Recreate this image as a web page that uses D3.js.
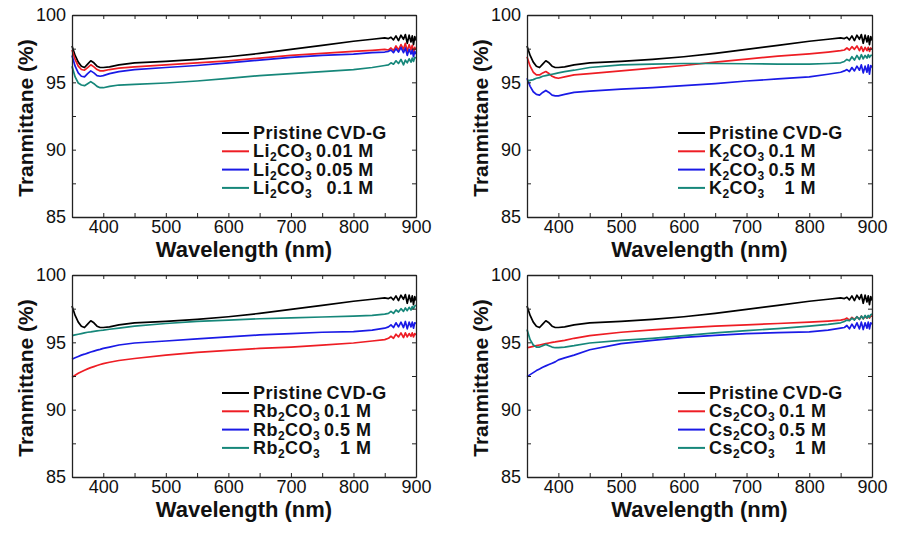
<!DOCTYPE html>
<html>
<head>
<meta charset="utf-8">
<script src="https://cdn.jsdelivr.net/npm/d3@7/dist/d3.min.js"></script>
<style>
  html, body { margin: 0; padding: 0; background: #fff; }
  svg { display: block; font-family: Arial, "Liberation Sans", Helvetica, sans-serif; }
</style>
</head>
<body>
<svg id="chart" width="903" height="533"></svg>
<script>
// ---------------- DATA ----------------
const wavelength = [350,355,360,365,370,375,380,385,390,395,400,410,425,450,500,550,600,650,700,750,800,830,850,856,860,864,868,872,876,880,883,886,889,892,894,896,898,900];

const pristine = [97.7,97.0,96.5,96.2,96.1,96.35,96.6,96.45,96.2,96.1,96.1,96.15,96.3,96.45,96.55,96.7,96.9,97.15,97.45,97.75,98.05,98.2,98.3,98.25,98.35,98.15,98.45,98.1,98.5,98.2,98.55,97.9,98.5,98.0,98.45,97.8,98.4,98.1];

const li001 = [97.4,96.7,96.2,95.95,95.9,96.1,96.3,96.15,95.95,95.85,95.85,95.95,96.05,96.15,96.3,96.45,96.6,96.8,97.0,97.15,97.3,97.38,97.45,97.4,97.55,97.35,97.7,97.4,97.8,97.45,97.9,97.3,97.8,97.4,97.75,97.2,97.6,97.4];
const li005 = [97.0,96.2,95.7,95.45,95.4,95.65,95.85,95.7,95.5,95.45,95.5,95.65,95.8,95.95,96.1,96.25,96.45,96.65,96.85,97.0,97.1,97.2,97.25,97.3,97.4,97.2,97.5,97.25,97.6,97.2,97.55,97.0,97.45,97.1,97.4,96.9,97.3,97.1];
const li01 = [96.2,95.4,94.95,94.8,94.75,94.9,95.05,94.9,94.7,94.6,94.6,94.7,94.8,94.85,94.95,95.1,95.3,95.5,95.65,95.8,95.95,96.1,96.25,96.3,96.45,96.35,96.6,96.4,96.7,96.3,96.65,96.45,96.75,96.5,96.8,96.55,96.85,96.8];

const k01 = [96.9,96.2,95.75,95.55,95.55,95.7,95.8,95.65,95.45,95.35,95.3,95.4,95.55,95.65,95.85,96.05,96.25,96.5,96.73,96.95,97.12,97.25,97.35,97.4,97.55,97.4,97.65,97.45,97.7,97.35,97.65,97.3,97.6,97.35,97.6,97.3,97.55,97.45];
const k05 = [95.3,94.7,94.3,94.1,94.05,94.25,94.4,94.25,94.05,94.0,94.0,94.1,94.25,94.35,94.5,94.6,94.75,94.9,95.1,95.25,95.4,95.6,95.75,95.85,95.95,95.8,96.1,95.85,96.2,95.9,96.3,95.7,96.2,95.75,96.3,95.6,96.25,96.1];
const k1 = [95.1,95.15,95.2,95.3,95.35,95.45,95.5,95.55,95.6,95.65,95.7,95.8,95.9,96.1,96.3,96.35,96.4,96.4,96.38,96.35,96.35,96.4,96.45,96.55,96.7,96.6,96.9,96.65,97.0,96.7,97.05,96.75,97.0,96.8,97.05,96.85,97.0,97.0];

const rb01 = [92.4,92.55,92.7,92.82,92.93,93.03,93.12,93.2,93.28,93.35,93.42,93.52,93.65,93.8,94.05,94.25,94.4,94.55,94.65,94.8,94.95,95.1,95.2,95.3,95.45,95.3,95.6,95.4,95.7,95.35,95.7,95.4,95.65,95.45,95.7,95.4,95.65,95.55];
const rb05 = [93.75,93.85,93.95,94.05,94.12,94.2,94.28,94.35,94.42,94.48,94.55,94.65,94.8,94.95,95.1,95.25,95.4,95.55,95.65,95.75,95.8,95.9,96.05,96.15,96.3,96.1,96.45,96.15,96.5,96.1,96.55,96.0,96.5,96.15,96.5,96.05,96.45,96.4];
const rb1 = [95.5,95.55,95.6,95.65,95.7,95.75,95.78,95.82,95.85,95.88,95.9,95.97,96.05,96.2,96.4,96.55,96.65,96.75,96.82,96.88,96.95,97.0,97.1,97.15,97.3,97.15,97.4,97.25,97.5,97.3,97.55,97.35,97.6,97.4,97.65,97.5,97.7,97.75];

const cs01 = [94.6,94.65,94.7,94.75,94.8,94.85,94.9,94.95,95.0,95.03,95.07,95.15,95.3,95.5,95.75,95.92,96.07,96.2,96.3,96.4,96.5,96.58,96.65,96.7,96.8,96.65,96.85,96.7,96.9,96.7,96.95,96.75,96.9,96.8,96.95,96.8,96.95,96.95];
const cs05 = [92.45,92.6,92.75,92.9,93.02,93.15,93.25,93.35,93.45,93.55,93.7,93.85,94.05,94.45,94.9,95.15,95.37,95.52,95.65,95.72,95.77,95.9,96.05,96.1,96.25,96.0,96.35,96.05,96.45,96.0,96.5,95.95,96.45,96.05,96.5,96.0,96.45,96.35];
const cs1 = [95.95,95.2,94.8,94.65,94.65,94.75,94.85,94.75,94.65,94.6,94.6,94.65,94.75,94.95,95.15,95.3,95.5,95.7,95.87,96.02,96.2,96.33,96.45,96.55,96.65,96.6,96.8,96.65,96.9,96.7,96.95,96.75,97.0,96.8,97.0,96.85,97.05,97.1];

const xTicks = [400,500,600,700,800,900];
const yTicks = [85,90,95,100];
const compounds = [["Li","CO"],["K","CO"],["Rb","CO"],["Cs","CO"]];
const concLabels = [["0.01 M","0.05 M","0.1 M"],["0.1 M","0.5 M","1 M"],["0.1 M","0.5 M","1 M"],["0.1 M","0.5 M","1 M"]];
const panelSeries = [[li001,li005,li01],[k01,k05,k1],[rb01,rb05,rb1],[cs01,cs05,cs1]];
const pristineLabel = "Pristine CVD-G";
const xTitle = "Wavelength (nm)";
const yTitle = "Tranmittane (%)";

// ---------------- LAYOUT / STYLE ----------------
const colors = ["#000000","#ee1d24","#1a1ae6","#16877a"];
const panels = [
  {x0:72, x1:416, y0:15, y1:217, legX:222},
  {x0:527, x1:872, y0:15, y1:217, legX:678},
  {x0:72, x1:416, y0:275, y1:477, legX:222},
  {x0:527, x1:872, y0:275, y1:477, legX:678}
];

const svg = d3.select("#chart");

panels.forEach((p, pi) => {
  const x = d3.scaleLinear().domain([350, 900]).range([p.x0, p.x1]);
  const y = d3.scaleLinear().domain([85, 100]).range([p.y1, p.y0]);
  const g = svg.append("g");

  const xMinor = d3.range(450, 900, 100);
  const yMinor = [87.5, 92.5, 97.5];
  const tickLen = 4;

  // series lines (pristine first)
  const allSeries = [pristine].concat(panelSeries[pi]);
  const line = d3.line().x((d, i) => x(wavelength[i])).y(d => y(d));
  allSeries.forEach((s, si) => {
    g.append("path").datum(s)
      .attr("d", line)
      .attr("fill", "none")
      .attr("stroke", colors[si])
      .attr("stroke-width", 1.7)
      .attr("stroke-linejoin", "round");
  });

  // axes
  const axStyle = sel => {
    sel.select(".domain").attr("stroke", "#222").attr("stroke-width", 1.3);
    sel.selectAll(".tick line").attr("stroke", "#222").attr("stroke-width", 1);
  };
  const bottom = g.append("g").attr("transform", `translate(0,${p.y1})`)
    .call(d3.axisBottom(x).tickValues(xTicks.concat(xMinor)).tickSize(-tickLen).tickSizeOuter(0)
      .tickFormat(d => xTicks.includes(d) ? d : ""));
  bottom.call(axStyle);
  bottom.selectAll(".tick text").attr("font-size", 18).attr("fill", "#111").attr("y", 3).attr("dy", "0.71em");

  const top = g.append("g").attr("transform", `translate(0,${p.y0})`)
    .call(d3.axisTop(x).tickValues(xTicks.concat(xMinor)).tickSize(-tickLen).tickSizeOuter(0).tickFormat(""));
  top.call(axStyle);

  const left = g.append("g").attr("transform", `translate(${p.x0},0)`)
    .call(d3.axisLeft(y).tickValues(yTicks.concat(yMinor)).tickSize(-tickLen).tickSizeOuter(0)
      .tickFormat(d => yTicks.includes(d) ? d : ""));
  left.call(axStyle);
  left.selectAll(".tick text").attr("font-size", 18).attr("fill", "#111").attr("x", -6);

  const right = g.append("g").attr("transform", `translate(${p.x1},0)`)
    .call(d3.axisRight(y).tickValues(yTicks.concat(yMinor)).tickSize(-tickLen).tickSizeOuter(0).tickFormat(""));
  right.call(axStyle);

  // axis titles
  g.append("text")
    .attr("x", (p.x0 + p.x1) / 2).attr("y", p.y1 + 40)
    .attr("text-anchor", "middle").attr("font-size", 22).attr("font-weight", "bold").attr("fill", "#111")
    .text(xTitle);
  g.append("text")
    .attr("transform", `translate(${p.x0 - 39},${(p.y0 + p.y1) / 2 + 2}) rotate(-90)`)
    .attr("text-anchor", "middle").attr("font-size", 21).attr("font-weight", "bold").attr("fill", "#111")
    .text(yTitle);

  // legend
  const lg = g.append("g");
  const rowY0 = p.y0 + 118, rowH = 18.3;
  const textX = p.legX + 31;
  for (let r = 0; r < 4; r++) {
    const yy = rowY0 + r * rowH;
    lg.append("line").attr("x1", p.legX).attr("x2", p.legX + 27)
      .attr("y1", yy).attr("y2", yy).attr("stroke", colors[r]).attr("stroke-width", 2);
  }
  const fontL = 18, ls = 0.45;
  lg.append("text").attr("x", textX).attr("y", rowY0 + 6)
    .attr("font-size", fontL).attr("font-weight", "bold").attr("fill", "#111")
    .attr("letter-spacing", ls).attr("word-spacing", -1.5)
    .text(pristineLabel);
  const compTexts = [];
  for (let r = 1; r < 4; r++) {
    const yy = rowY0 + r * rowH + 6;
    const t = lg.append("text").attr("x", textX).attr("y", yy)
      .attr("font-size", fontL).attr("font-weight", "bold").attr("fill", "#111")
      .attr("letter-spacing", ls);
    t.append("tspan").text(compounds[pi][0]);
    t.append("tspan").attr("font-size", 12).attr("dy", 4).text("2");
    t.append("tspan").attr("dy", -4).text(compounds[pi][1]);
    t.append("tspan").attr("font-size", 12).attr("dy", 4).text("3");
    compTexts.push(t);
  }
  const compW = compTexts[0].node().getComputedTextLength();
  const concNodes = [];
  for (let r = 1; r < 4; r++) {
    const yy = rowY0 + r * rowH + 6;
    const c = lg.append("text").attr("y", yy)
      .attr("font-size", fontL).attr("font-weight", "bold").attr("fill", "#111")
      .attr("letter-spacing", ls)
      .text(concLabels[pi][r - 1]);
    concNodes.push(c);
  }
  const maxC = d3.max(concNodes, c => c.node().getComputedTextLength());
  const endX = textX + compW + 4 + maxC;
  concNodes.forEach(c => c.attr("x", endX).attr("text-anchor", "end"));
});
</script>
</body>
</html>
